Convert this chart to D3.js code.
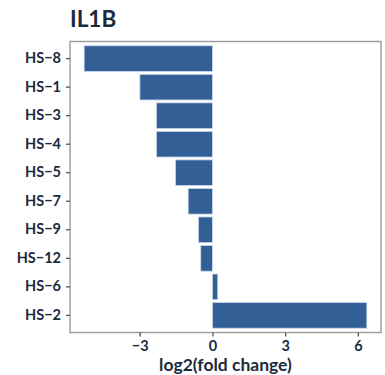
<!DOCTYPE html>
<html>
<head>
<meta charset="utf-8">
<script src="https://cdn.jsdelivr.net/npm/d3@7/dist/d3.min.js"></script>
<style>
  html, body { margin: 0; padding: 0; background: #fff; }
  svg { display: block; font-family: Lato, "Open Sans", sans-serif; }
</style>
</head>
<body>
<svg id="chart" width="385" height="375"></svg>
<script>
// Sample names, top to bottom
const samples = ["HS-8", "HS-1", "HS-3", "HS-4", "HS-5", "HS-7", "HS-9", "HS-12", "HS-6", "HS-2"];
// log2 fold change of IL1B per sample
const log2fc = [-5.29, -2.99, -2.31, -2.31, -1.52, -1.0, -0.57, -0.48, 0.22, 6.37];
const xTicks = [-3, 0, 3, 6];
const gene = "IL1B";
const xTitle = "log2(fold change)";

const svg = d3.select("#chart");
const panel = { left: 70, top: 41.5, right: 381, bottom: 332.5 };
const ink = "#1b2a3d";

// ggplot-like expansion: 5% continuous, 0.6 units discrete
const lo = Math.min(0, d3.min(log2fc)), hi = Math.max(0, d3.max(log2fc));
const pad = (hi - lo) * 0.05;
const x = d3.scaleLinear().domain([lo - pad, hi + pad]).range([panel.left, panel.right]);

const n = samples.length;
const step = (panel.bottom - panel.top) / (n - 1 + 1.2);
const y = d3.scaleBand()
  .domain(samples)
  .range([panel.top + 0.6 * step - step / 2, panel.bottom - 0.6 * step + step / 2])
  .paddingInner(0.1)
  .paddingOuter(0.05);

// Bars
svg.append("g").selectAll("rect")
  .data(samples.map((s, i) => ({ s, v: log2fc[i] })))
  .join("rect")
  .attr("x", d => x(Math.min(0, d.v)))
  .attr("width", d => Math.abs(x(d.v) - x(0)))
  .attr("y", d => y(d.s))
  .attr("height", y.bandwidth())
  .attr("fill", "#326096")
  .attr("stroke", "#c9d8ea")
  .attr("stroke-width", 0.8);

// Panel border
svg.append("rect")
  .attr("x", panel.left).attr("y", panel.top)
  .attr("width", panel.right - panel.left).attr("height", panel.bottom - panel.top)
  .attr("fill", "none").attr("stroke", "#9a9a9a").attr("stroke-width", 1.4);

// X axis
const xAxis = svg.append("g")
  .attr("transform", `translate(0,${panel.bottom})`)
  .call(d3.axisBottom(x).tickValues(xTicks).tickSize(4).tickPadding(4)
    .tickFormat(d => d < 0 ? "\u2212" + Math.abs(d) : d));
xAxis.select(".domain").remove();
xAxis.selectAll(".tick line").attr("stroke", "#555").attr("stroke-width", 1.3);
xAxis.selectAll(".tick text").attr("fill", ink).attr("font-size", 14.5)
  .attr("font-weight", 700).attr("font-family", "Lato, sans-serif");

// Y axis
const yAxis = svg.append("g")
  .attr("transform", `translate(${panel.left},0)`)
  .call(d3.axisLeft(y).tickSize(4).tickPadding(5)
    .tickFormat(d => d.replace("-", "\u2212")));
yAxis.select(".domain").remove();
yAxis.selectAll(".tick line").attr("stroke", "#555").attr("stroke-width", 1.3);
yAxis.selectAll(".tick text").attr("fill", ink).attr("font-size", 14.5)
  .attr("font-weight", 700).attr("font-family", "Lato, sans-serif");

// Title
svg.append("text")
  .attr("x", panel.left).attr("y", 27)
  .attr("fill", ink).attr("font-size", 22.5).attr("font-weight", 700)
  .text(gene);

// X axis title
svg.append("text")
  .attr("x", (panel.left + panel.right) / 2).attr("y", 371)
  .attr("text-anchor", "middle")
  .attr("fill", ink).attr("font-size", 17.5).attr("font-weight", 700)
  .text(xTitle);
</script>
</body>
</html>
